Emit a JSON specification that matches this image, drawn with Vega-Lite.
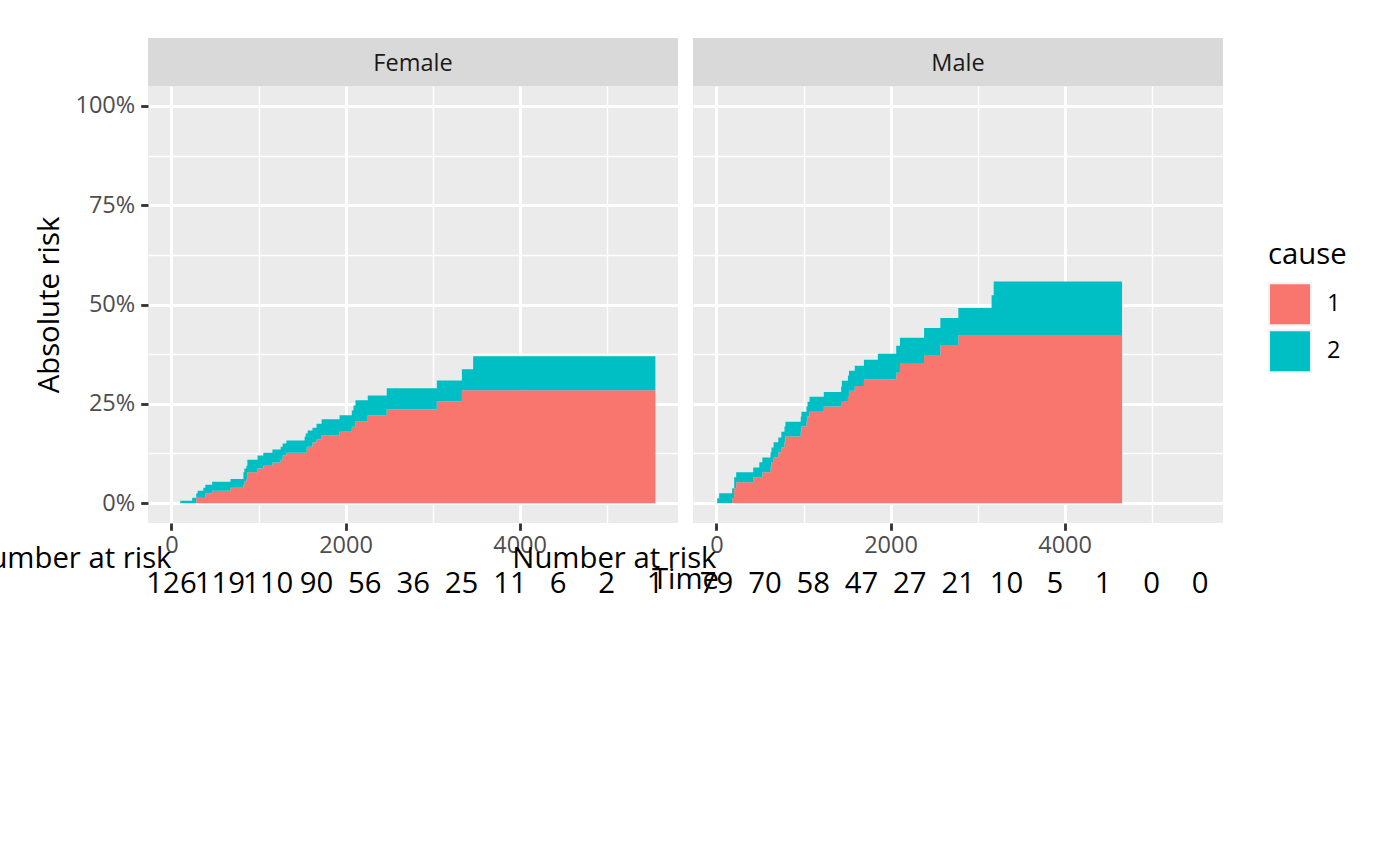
{
  "$schema": "https://vega.github.io/schema/vega-lite/v6.json",
  "background": "white",
  "padding": {"left": -33, "top": 38, "right": 0, "bottom": 0},
  "title": {"text": "Time", "orient": "bottom", "anchor": "middle", "frame": "group", "offset": -72, "dx": 537.5, "fontSize": 29.3, "fontWeight": "normal", "color": "black"},
  "config": {
    "font": "Open Sans",
    "view": {"stroke": null}
  },
  "datasets": {
    "risk": [
      {"sex":"Female","cause":"1","time":101,"lo":0,"hi":0},{"sex":"Female","cause":"2","time":101,"lo":0,"hi":0.6},
      {"sex":"Female","cause":"1","time":238,"lo":0,"hi":0},{"sex":"Female","cause":"2","time":238,"lo":0,"hi":1.35},
      {"sex":"Female","cause":"1","time":284,"lo":0,"hi":1.35},{"sex":"Female","cause":"2","time":284,"lo":1.35,"hi":2.4},
      {"sex":"Female","cause":"1","time":300,"lo":0,"hi":1.35},{"sex":"Female","cause":"2","time":300,"lo":1.35,"hi":3.1},
      {"sex":"Female","cause":"1","time":366,"lo":0,"hi":1.35},{"sex":"Female","cause":"2","time":366,"lo":1.35,"hi":3.9},
      {"sex":"Female","cause":"1","time":389,"lo":0,"hi":2.4},{"sex":"Female","cause":"2","time":389,"lo":2.4,"hi":4.6},
      {"sex":"Female","cause":"1","time":467,"lo":0,"hi":3.1},{"sex":"Female","cause":"2","time":467,"lo":3.1,"hi":5.4},
      {"sex":"Female","cause":"1","time":678,"lo":0,"hi":3.9},{"sex":"Female","cause":"2","time":678,"lo":3.9,"hi":6.1},
      {"sex":"Female","cause":"1","time":826,"lo":0,"hi":4.6},{"sex":"Female","cause":"2","time":826,"lo":4.6,"hi":7.8},
      {"sex":"Female","cause":"1","time":837,"lo":0,"hi":5.4},{"sex":"Female","cause":"2","time":837,"lo":5.4,"hi":8.7},
      {"sex":"Female","cause":"1","time":861,"lo":0,"hi":6.1},{"sex":"Female","cause":"2","time":861,"lo":6.1,"hi":9.4},
      {"sex":"Female","cause":"1","time":872,"lo":0,"hi":7.8},{"sex":"Female","cause":"2","time":872,"lo":7.8,"hi":10.95},
      {"sex":"Female","cause":"1","time":989,"lo":0,"hi":8.7},{"sex":"Female","cause":"2","time":989,"lo":8.7,"hi":12},
      {"sex":"Female","cause":"1","time":1055,"lo":0,"hi":9.4},{"sex":"Female","cause":"2","time":1055,"lo":9.4,"hi":12.7},
      {"sex":"Female","cause":"1","time":1160,"lo":0,"hi":10.2},{"sex":"Female","cause":"2","time":1160,"lo":10.2,"hi":13.5},
      {"sex":"Female","cause":"1","time":1254,"lo":0,"hi":10.95},{"sex":"Female","cause":"2","time":1254,"lo":10.95,"hi":14.2},
      {"sex":"Female","cause":"1","time":1277,"lo":0,"hi":12},{"sex":"Female","cause":"2","time":1277,"lo":12,"hi":15},
      {"sex":"Female","cause":"1","time":1320,"lo":0,"hi":12.7},{"sex":"Female","cause":"2","time":1320,"lo":12.7,"hi":15.75},
      {"sex":"Female","cause":"1","time":1530,"lo":0,"hi":12.7},{"sex":"Female","cause":"2","time":1530,"lo":12.7,"hi":16.7},
      {"sex":"Female","cause":"1","time":1542,"lo":0,"hi":12.7},{"sex":"Female","cause":"2","time":1542,"lo":12.7,"hi":17.5},
      {"sex":"Female","cause":"1","time":1554,"lo":0,"hi":14.2},{"sex":"Female","cause":"2","time":1554,"lo":14.2,"hi":17.5},
      {"sex":"Female","cause":"1","time":1565,"lo":0,"hi":14.2},{"sex":"Female","cause":"2","time":1565,"lo":14.2,"hi":18.3},
      {"sex":"Female","cause":"1","time":1620,"lo":0,"hi":15.25},{"sex":"Female","cause":"2","time":1620,"lo":15.25,"hi":19},
      {"sex":"Female","cause":"1","time":1667,"lo":0,"hi":16},{"sex":"Female","cause":"2","time":1667,"lo":16,"hi":20},
      {"sex":"Female","cause":"1","time":1725,"lo":0,"hi":17},{"sex":"Female","cause":"2","time":1725,"lo":17,"hi":21.1},
      {"sex":"Female","cause":"1","time":1931,"lo":0,"hi":18},{"sex":"Female","cause":"2","time":1931,"lo":18,"hi":22.1},
      {"sex":"Female","cause":"1","time":2072,"lo":0,"hi":19.2},{"sex":"Female","cause":"2","time":2072,"lo":19.2,"hi":23.3},
      {"sex":"Female","cause":"1","time":2091,"lo":0,"hi":19.2},{"sex":"Female","cause":"2","time":2091,"lo":19.2,"hi":24.6},
      {"sex":"Female","cause":"1","time":2114,"lo":0,"hi":20.6},{"sex":"Female","cause":"2","time":2114,"lo":20.6,"hi":25.9},
      {"sex":"Female","cause":"1","time":2255,"lo":0,"hi":22.1},{"sex":"Female","cause":"2","time":2255,"lo":22.1,"hi":27.1},
      {"sex":"Female","cause":"1","time":2473,"lo":0,"hi":23.6},{"sex":"Female","cause":"2","time":2473,"lo":23.6,"hi":28.9},
      {"sex":"Female","cause":"1","time":3049,"lo":0,"hi":25.6},{"sex":"Female","cause":"2","time":3049,"lo":25.6,"hi":30.9},
      {"sex":"Female","cause":"1","time":3337,"lo":0,"hi":28.4},{"sex":"Female","cause":"2","time":3337,"lo":28.4,"hi":33.7},
      {"sex":"Female","cause":"1","time":3466,"lo":0,"hi":28.4},{"sex":"Female","cause":"2","time":3466,"lo":28.4,"hi":37},
      {"sex":"Female","cause":"1","time":5560,"lo":0,"hi":28.4},{"sex":"Female","cause":"2","time":5560,"lo":28.4,"hi":37},
      {"sex":"Male","cause":"1","time":8,"lo":0,"hi":0},{"sex":"Male","cause":"2","time":8,"lo":0,"hi":1.25},
      {"sex":"Male","cause":"1","time":31,"lo":0,"hi":0},{"sex":"Male","cause":"2","time":31,"lo":0,"hi":2.5},
      {"sex":"Male","cause":"1","time":180,"lo":0,"hi":1.25},{"sex":"Male","cause":"2","time":180,"lo":1.25,"hi":3.75},
      {"sex":"Male","cause":"1","time":203,"lo":0,"hi":3.75},{"sex":"Male","cause":"2","time":203,"lo":3.75,"hi":6.5},
      {"sex":"Male","cause":"1","time":226,"lo":0,"hi":5.26},{"sex":"Male","cause":"2","time":226,"lo":5.26,"hi":7.76},
      {"sex":"Male","cause":"1","time":422,"lo":0,"hi":6.5},{"sex":"Male","cause":"2","time":422,"lo":6.5,"hi":9},
      {"sex":"Male","cause":"1","time":492,"lo":0,"hi":6.5},{"sex":"Male","cause":"2","time":492,"lo":6.5,"hi":10.3},
      {"sex":"Male","cause":"1","time":527,"lo":0,"hi":7.76},{"sex":"Male","cause":"2","time":527,"lo":7.76,"hi":11.5},
      {"sex":"Male","cause":"1","time":621,"lo":0,"hi":9},{"sex":"Male","cause":"2","time":621,"lo":9,"hi":12.8},
      {"sex":"Male","cause":"1","time":632,"lo":0,"hi":10.3},{"sex":"Male","cause":"2","time":632,"lo":10.3,"hi":14},
      {"sex":"Male","cause":"1","time":656,"lo":0,"hi":11.5},{"sex":"Male","cause":"2","time":656,"lo":11.5,"hi":15.3},
      {"sex":"Male","cause":"1","time":710,"lo":0,"hi":12.8},{"sex":"Male","cause":"2","time":710,"lo":12.8,"hi":16.5},
      {"sex":"Male","cause":"1","time":745,"lo":0,"hi":14},{"sex":"Male","cause":"2","time":745,"lo":14,"hi":18},
      {"sex":"Male","cause":"1","time":781,"lo":0,"hi":15.3},{"sex":"Male","cause":"2","time":781,"lo":15.3,"hi":19.3},
      {"sex":"Male","cause":"1","time":792,"lo":0,"hi":16.8},{"sex":"Male","cause":"2","time":792,"lo":16.8,"hi":20.5},
      {"sex":"Male","cause":"1","time":968,"lo":0,"hi":18},{"sex":"Male","cause":"2","time":968,"lo":18,"hi":21.8},
      {"sex":"Male","cause":"1","time":976,"lo":0,"hi":19.3},{"sex":"Male","cause":"2","time":976,"lo":19.3,"hi":23},
      {"sex":"Male","cause":"1","time":1034,"lo":0,"hi":20.5},{"sex":"Male","cause":"2","time":1034,"lo":20.5,"hi":24.3},
      {"sex":"Male","cause":"1","time":1046,"lo":0,"hi":21.8},{"sex":"Male","cause":"2","time":1046,"lo":21.8,"hi":25.5},
      {"sex":"Male","cause":"1","time":1069,"lo":0,"hi":23},{"sex":"Male","cause":"2","time":1069,"lo":23,"hi":26.8},
      {"sex":"Male","cause":"1","time":1233,"lo":0,"hi":24.3},{"sex":"Male","cause":"2","time":1233,"lo":24.3,"hi":28},
      {"sex":"Male","cause":"1","time":1432,"lo":0,"hi":24.3},{"sex":"Male","cause":"2","time":1432,"lo":24.3,"hi":29.3},
      {"sex":"Male","cause":"1","time":1440,"lo":0,"hi":25.5},{"sex":"Male","cause":"2","time":1440,"lo":25.5,"hi":30.8},
      {"sex":"Male","cause":"1","time":1510,"lo":0,"hi":26.8},{"sex":"Male","cause":"2","time":1510,"lo":26.8,"hi":32.1},
      {"sex":"Male","cause":"1","time":1522,"lo":0,"hi":28.3},{"sex":"Male","cause":"2","time":1522,"lo":28.3,"hi":33.3},
      {"sex":"Male","cause":"1","time":1589,"lo":0,"hi":29.5},{"sex":"Male","cause":"2","time":1589,"lo":29.5,"hi":34.6},
      {"sex":"Male","cause":"1","time":1694,"lo":0,"hi":31.1},{"sex":"Male","cause":"2","time":1694,"lo":31.1,"hi":36.1},
      {"sex":"Male","cause":"1","time":1854,"lo":0,"hi":31.1},{"sex":"Male","cause":"2","time":1854,"lo":31.1,"hi":37.6},
      {"sex":"Male","cause":"1","time":2065,"lo":0,"hi":32.8},{"sex":"Male","cause":"2","time":2065,"lo":32.8,"hi":39.6},
      {"sex":"Male","cause":"1","time":2108,"lo":0,"hi":35.1},{"sex":"Male","cause":"2","time":2108,"lo":35.1,"hi":41.6},
      {"sex":"Male","cause":"1","time":2385,"lo":0,"hi":37.3},{"sex":"Male","cause":"2","time":2385,"lo":37.3,"hi":44.1},
      {"sex":"Male","cause":"1","time":2572,"lo":0,"hi":39.8},{"sex":"Male","cause":"2","time":2572,"lo":39.8,"hi":46.6},
      {"sex":"Male","cause":"1","time":2779,"lo":0,"hi":42.3},{"sex":"Male","cause":"2","time":2779,"lo":42.3,"hi":49.1},
      {"sex":"Male","cause":"1","time":3161,"lo":0,"hi":42.3},{"sex":"Male","cause":"2","time":3161,"lo":42.3,"hi":52.3},
      {"sex":"Male","cause":"1","time":3185,"lo":0,"hi":42.3},{"sex":"Male","cause":"2","time":3185,"lo":42.3,"hi":55.8},
      {"sex":"Male","cause":"1","time":4660,"lo":0,"hi":42.3},{"sex":"Male","cause":"2","time":4660,"lo":42.3,"hi":55.8}
    ],
    "atrisk": [
      {"sex":"Female","kind":"label","time":0,"text":"Number at risk"},
      {"sex":"Female","kind":"count","time":0,"text":"126"},
      {"sex":"Female","kind":"count","time":556,"text":"119"},
      {"sex":"Female","kind":"count","time":1111,"text":"110"},
      {"sex":"Female","kind":"count","time":1667,"text":"90"},
      {"sex":"Female","kind":"count","time":2222,"text":"56"},
      {"sex":"Female","kind":"count","time":2778,"text":"36"},
      {"sex":"Female","kind":"count","time":3333,"text":"25"},
      {"sex":"Female","kind":"count","time":3889,"text":"11"},
      {"sex":"Female","kind":"count","time":4444,"text":"6"},
      {"sex":"Female","kind":"count","time":5000,"text":"2"},
      {"sex":"Female","kind":"count","time":5556,"text":"1"},
      {"sex":"Male","kind":"label","time":0,"text":"Number at risk"},
      {"sex":"Male","kind":"count","time":0,"text":"79"},
      {"sex":"Male","kind":"count","time":556,"text":"70"},
      {"sex":"Male","kind":"count","time":1111,"text":"58"},
      {"sex":"Male","kind":"count","time":1667,"text":"47"},
      {"sex":"Male","kind":"count","time":2222,"text":"27"},
      {"sex":"Male","kind":"count","time":2778,"text":"21"},
      {"sex":"Male","kind":"count","time":3333,"text":"10"},
      {"sex":"Male","kind":"count","time":3889,"text":"5"},
      {"sex":"Male","kind":"count","time":4444,"text":"1"},
      {"sex":"Male","kind":"count","time":5000,"text":"0"},
      {"sex":"Male","kind":"count","time":5556,"text":"0"}
    ]
  },
  "columns": 2,
  "spacing": {"row": 0, "column": 15},
  "bounds": "flush",
  "resolve": {"scale": {"x": "independent", "y": "independent", "color": "shared"}},
  "concat": [
    {
      "width": 530, "height": 48,
      "view": {"fill": "#D9D9D9", "stroke": null},
      "data": {"values": [{"sex": "Female"}]},
      "mark": {"type": "text", "fontSize": 23.5, "color": "#1A1A1A", "dy": 2},
      "encoding": {"text": {"field": "sex", "type": "nominal"}}
    },
    {
      "width": 530, "height": 48,
      "view": {"fill": "#D9D9D9", "stroke": null},
      "data": {"values": [{"sex": "Male"}]},
      "mark": {"type": "text", "fontSize": 23.5, "color": "#1A1A1A", "dy": 2},
      "encoding": {"text": {"field": "sex", "type": "nominal"}}
    },
    {
      "width": 530, "height": 437,
      "view": {"fill": "#EBEBEB", "stroke": null},
      "data": {"name": "risk"},
      "transform": [{"filter": "datum.sex === 'Female'"}],
      "mark": {"type": "area", "interpolate": "step-after", "opacity": 1},
      "encoding": {
        "x": {
          "field": "time", "type": "quantitative",
          "scale": {"domain": [-270, 5820], "nice": false, "zero": false},
          "axis": {
            "values": [0, 1000, 2000, 3000, 4000, 5000], "format": "d", "title": null,
            "grid": true, "gridColor": "white",
            "gridWidth": {"condition": {"test": "datum.value % 2000 === 0", "value": 2.85}, "value": 1.42},
            "domain": false,
            "labelExpr": "datum.value % 2000 === 0 ? datum.label : ''",
            "tickOpacity": {"condition": {"test": "datum.value % 2000 === 0", "value": 1}, "value": 0},
            "tickColor": "#333333", "tickWidth": 2.85, "tickSize": 7.3,
            "labelFontSize": 23.5, "labelColor": "#4D4D4D", "labelPadding": 3,
            "labelFlush": false, "labelOverlap": false
          }
        },
        "y": {
          "field": "lo", "type": "quantitative",
          "scale": {"domain": [-5, 105], "nice": false, "zero": false},
          "axis": {
            "values": [0, 12.5, 25, 37.5, 50, 62.5, 75, 87.5, 100],
            "title": "Absolute risk", "titleFontSize": 29.3, "titleFontWeight": "normal", "titleColor": "black", "titlePadding": 10,
            "grid": true, "gridColor": "white",
            "gridWidth": {"condition": {"test": "datum.value % 25 === 0", "value": 2.85}, "value": 1.42},
            "domain": false,
            "labelExpr": "datum.value % 25 === 0 ? datum.value + '%' : ''",
            "tickOpacity": {"condition": {"test": "datum.value % 25 === 0", "value": 1}, "value": 0},
            "tickColor": "#333333", "tickWidth": 2.85, "tickSize": 7.3,
            "labelFontSize": 23.5, "labelColor": "#4D4D4D", "labelPadding": 6,
            "labelFlush": false, "labelOverlap": false
          }
        },
        "y2": {"field": "hi"},
        "color": {
          "field": "cause", "type": "nominal",
          "scale": {"domain": ["1", "2"], "range": ["#F8766D", "#00BFC4"]},
          "legend": {
            "title": "cause", "orient": "none", "legendX": 1120, "legendY": 203, "padding": 0,
            "titleFontSize": 29.3, "titleFontWeight": "normal", "titleColor": "black", "titlePadding": 12,
            "labelFontSize": 23.5, "labelColor": "black", "labelOffset": 15,
            "symbolType": "square", "symbolSize": 1764, "symbolStrokeColor": "#F2F2F2", "symbolStrokeWidth": 2,
            "symbolOpacity": 1, "rowPadding": -4
          }
        }
      }
    },
    {
      "width": 530, "height": 437,
      "view": {"fill": "#EBEBEB", "stroke": null},
      "data": {"name": "risk"},
      "transform": [{"filter": "datum.sex === 'Male'"}],
      "mark": {"type": "area", "interpolate": "step-after", "opacity": 1},
      "encoding": {
        "x": {
          "field": "time", "type": "quantitative",
          "scale": {"domain": [-270, 5820], "nice": false, "zero": false},
          "axis": {
            "values": [0, 1000, 2000, 3000, 4000, 5000], "format": "d", "title": null,
            "grid": true, "gridColor": "white",
            "gridWidth": {"condition": {"test": "datum.value % 2000 === 0", "value": 2.85}, "value": 1.42},
            "domain": false,
            "labelExpr": "datum.value % 2000 === 0 ? datum.label : ''",
            "tickOpacity": {"condition": {"test": "datum.value % 2000 === 0", "value": 1}, "value": 0},
            "tickColor": "#333333", "tickWidth": 2.85, "tickSize": 7.3,
            "labelFontSize": 23.5, "labelColor": "#4D4D4D", "labelPadding": 3,
            "labelFlush": false, "labelOverlap": false
          }
        },
        "y": {
          "field": "lo", "type": "quantitative",
          "scale": {"domain": [-5, 105], "nice": false, "zero": false},
          "axis": {
            "values": [0, 12.5, 25, 37.5, 50, 62.5, 75, 87.5, 100],
            "title": null, "labels": false, "ticks": false, "domain": false,
            "grid": true, "gridColor": "white",
            "gridWidth": {"condition": {"test": "datum.value % 25 === 0", "value": 2.85}, "value": 1.42}
          }
        },
        "y2": {"field": "hi"},
        "color": {
          "field": "cause", "type": "nominal",
          "scale": {"domain": ["1", "2"], "range": ["#F8766D", "#00BFC4"]},
          "legend": {
            "title": "cause", "orient": "none", "legendX": 1120, "legendY": 203, "padding": 0,
            "titleFontSize": 29.3, "titleFontWeight": "normal", "titleColor": "black", "titlePadding": 12,
            "labelFontSize": 23.5, "labelColor": "black", "labelOffset": 15,
            "symbolType": "square", "symbolSize": 1764, "symbolStrokeColor": "#F2F2F2", "symbolStrokeWidth": 2,
            "symbolOpacity": 1, "rowPadding": -4
          }
        }
      }
    },
    {
      "width": 530, "height": 115,
      "data": {"name": "atrisk"},
      "transform": [{"filter": "datum.sex === 'Female'"}],
      "encoding": {
        "x": {"field": "time", "type": "quantitative", "scale": {"domain": [-270, 5820], "nice": false, "zero": false}, "axis": null},
        "y": {"field": "kind", "type": "nominal", "scale": {"type": "point", "domain": ["label", "count"], "range": [45, 70], "padding": 0}, "axis": null},
        "text": {"field": "text", "type": "nominal"}
      },
      "layer": [
        {"transform": [{"filter": "datum.kind === 'label'"}], "mark": {"type": "text", "align": "right", "baseline": "alphabetic", "fontSize": 29.3, "color": "black"}},
        {"transform": [{"filter": "datum.kind === 'count'"}], "mark": {"type": "text", "align": "center", "baseline": "alphabetic", "fontSize": 29.3, "color": "black"}}
      ]
    },
    {
      "width": 530, "height": 115,
      "data": {"name": "atrisk"},
      "transform": [{"filter": "datum.sex === 'Male'"}],
      "encoding": {
        "x": {"field": "time", "type": "quantitative", "scale": {"domain": [-270, 5820], "nice": false, "zero": false}, "axis": null},
        "y": {"field": "kind", "type": "nominal", "scale": {"type": "point", "domain": ["label", "count"], "range": [45, 70], "padding": 0}, "axis": null},
        "text": {"field": "text", "type": "nominal"}
      },
      "layer": [
        {"transform": [{"filter": "datum.kind === 'label'"}], "mark": {"type": "text", "align": "right", "baseline": "alphabetic", "fontSize": 29.3, "color": "black"}},
        {"transform": [{"filter": "datum.kind === 'count'"}], "mark": {"type": "text", "align": "center", "baseline": "alphabetic", "fontSize": 29.3, "color": "black"}}
      ]
    }
  ]
}
